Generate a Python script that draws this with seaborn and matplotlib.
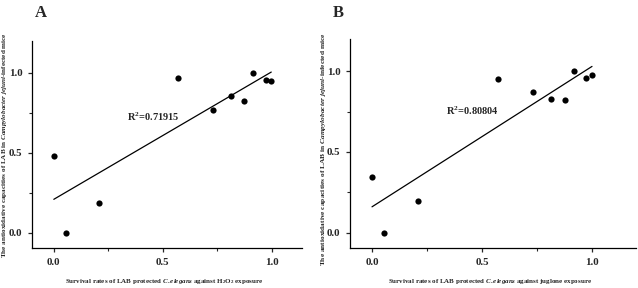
import matplotlib
matplotlib.use("Agg")
import matplotlib.pyplot as plt
import seaborn as sns
import pandas as pd
from matplotlib.ticker import MultipleLocator

# Panel A data (H2O2)
xa = [0.0, 0.055, 0.208, 0.571, 0.732, 0.812, 0.871, 0.914, 0.972, 0.997]
ya = [0.483, 0.0, 0.188, 0.971, 0.767, 0.856, 0.823, 1.0, 0.956, 0.952]
# Panel B data (juglone)
xb = [0.0, 0.055, 0.209, 0.573, 0.733, 0.815, 0.876, 0.917, 0.974, 1.0]
yb = [0.346, 0.0, 0.198, 0.953, 0.868, 0.827, 0.823, 1.0, 0.959, 0.975]

r2_a = "R$^2$=0.71915"
r2_b = "R$^2$=0.80804"
ticks = [0.0, 0.5, 1.0]
tick_labels = ["0.0", "0.5", "1.0"]
ylabel_txt = "The antioxidative capacities of LAB in $\\it{Campylobacter\\ jejuni}$-infected mice"
xlabel_a = "Survival rates of LAB protected $\\it{C.elegans}$ against H$_2$O$_2$ exposure"
xlabel_b = "Survival rates of LAB protected $\\it{C.elegans}$ against juglone exposure"

sns.set_style("ticks")
plt.rcParams['font.family'] = ['Liberation Serif', 'DejaVu Serif']
plt.rcParams['mathtext.fontset'] = 'custom'
plt.rcParams['mathtext.rm'] = 'Liberation Serif:bold'
plt.rcParams['mathtext.it'] = 'Liberation Serif:italic:bold'
plt.rcParams['mathtext.bf'] = 'Liberation Serif:bold'

fig = plt.figure(figsize=(6.38, 2.88), dpi=100)

W, H = 638, 288
def box(l, r, t, b):
    return [l / W, (H - b) / H, (r - l) / W, (b - t) / H]

panels = [
    dict(x=xa, y=ya, rect=box(32, 302, 41, 248), xlim=(-0.1, 1.138), ylim=(-0.094, 1.2),
         r2=r2_a, r2pos=(0.335, 0.685), xlabel=xlabel_a, letter="A", letterpos=(35, 17),
         ylpos=(5, 145), ylsize=5.1),
    dict(x=xb, y=yb, rect=box(350, 636, 39, 248), xlim=(-0.1, 1.2), ylim=(-0.093, 1.198),
         r2=r2_b, r2pos=(0.335, 0.715), xlabel=xlabel_b, letter="B", letterpos=(333, 17),
         ylpos=(323, 149), ylsize=5.3),
]

for p in panels:
    ax = fig.add_axes(p["rect"])
    df = pd.DataFrame({"x": p["x"], "y": p["y"]})
    sns.regplot(data=df, x="x", y="y", ax=ax, ci=None, truncate=True,
                scatter_kws=dict(s=20, color="black", alpha=1, linewidths=0, zorder=3),
                line_kws=dict(color="black", lw=0.9))
    ax.set_xlim(*p["xlim"])
    ax.set_ylim(*p["ylim"])
    ax.set_xticks(ticks)
    ax.set_xticklabels(tick_labels, fontsize=7.8, fontweight="bold")
    ax.set_yticks(ticks)
    ax.set_yticklabels(tick_labels, fontsize=7.8, fontweight="bold")
    ax.xaxis.set_minor_locator(MultipleLocator(0.25))
    ax.yaxis.set_minor_locator(MultipleLocator(0.25))
    ax.tick_params(which="major", direction="out", length=3, width=0.9, pad=4)
    ax.tick_params(which="minor", direction="out", length=2, width=0.8)
    for s in ["left", "bottom"]:
        ax.spines[s].set_linewidth(0.9)
        ax.spines[s].set_color("black")
    sns.despine(ax=ax)
    ax.set_xlabel("")
    ax.set_ylabel("")
    ax.text(p["r2pos"][0], p["r2pos"][1], p["r2"], fontsize=7.5, fontweight="bold",
            va="bottom", ha="left")
    rect = p["rect"]
    fig.text(rect[0] + rect[2] / 2 - 0.005, (H - 282) / H, p["xlabel"], fontsize=5,
             fontweight="bold", ha="center", va="center")
    fig.text(p["ylpos"][0] / W, (H - p["ylpos"][1]) / H, ylabel_txt, fontsize=p["ylsize"],
             fontweight="bold", rotation=90, ha="center", va="center")
    fig.text(p["letterpos"][0] / W, (H - p["letterpos"][1]) / H, p["letter"], fontsize=12,
             fontweight="bold", ha="left", va="baseline")

fig.savefig("out.png", dpi=100)
